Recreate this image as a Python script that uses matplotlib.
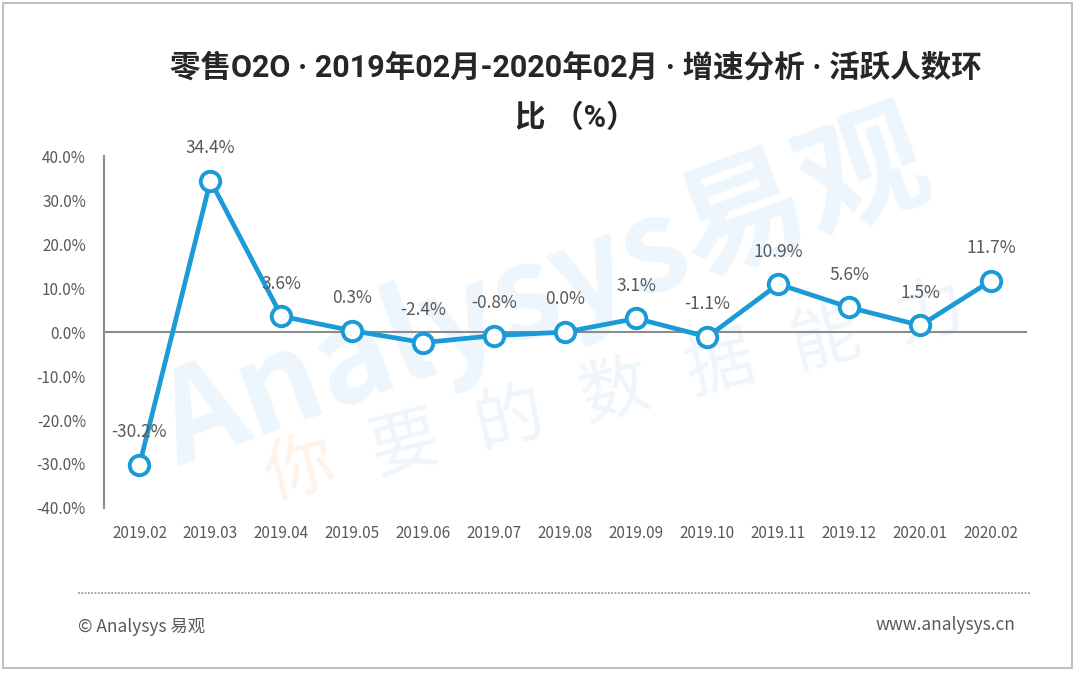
import matplotlib.pyplot as plt
from matplotlib.patches import Rectangle
from matplotlib.lines import Line2D

plt.rcParams['font.family'] = ['Noto Sans CJK SC', 'DejaVu Sans']

months = ['2019.02', '2019.03', '2019.04', '2019.05', '2019.06', '2019.07',
          '2019.08', '2019.09', '2019.10', '2019.11', '2019.12', '2020.01',
          '2020.02']
growth = [-30.2, 34.4, 3.6, 0.3, -2.4, -0.8, 0.0, 3.1, -1.1, 10.9, 5.6, 1.5, 11.7]
yticks = [-40, -30, -20, -10, 0, 10, 20, 30, 40]

title_lines = ['零售O2O · 2019年02月-2020年02月 · 增速分析 · 活跃人数环', '比 （%）']
slogan = '你要的数据能力'

blue = '#1A9AD7'
grey = '#595959'

fig = plt.figure(figsize=(10.8, 6.73), dpi=100)

# faint watermark behind the chart
fig.text(0.505, 0.565, 'Analysys易观', fontsize=92, fontweight='bold',
         color='#EDF6FC', rotation=20, ha='center', va='center', zorder=-1)
for i, ch in enumerate(slogan):
    fig.text((300 + 105 * i) / 1080, 1 - (472 - 26.5 * i) / 673, ch,
             fontsize=50, color='#FEF3EA' if i == 0 else '#EEF6FB',
             rotation=14, ha='center', va='center', zorder=-1)

ax = fig.add_axes([0.0963, 0.2452, 0.8545, 0.5228])
ax.set_zorder(2)
ax.patch.set_alpha(0)
x = list(range(len(months)))
ax.plot(x, growth, color=blue, linewidth=3.4, marker='o', markersize=14,
        markerfacecolor='white', markeredgecolor=blue, markeredgewidth=2.8,
        zorder=3)
ax.axhline(0, color='#8C8C8C', linewidth=1.5, zorder=2)

for xi, v in zip(x, growth):
    ax.annotate('%.1f%%' % v, (xi, v), xytext=(0, 17), textcoords='offset points',
                ha='center', va='bottom', fontsize=12.5, color=grey, zorder=4)

ax.set_xlim(-0.5, len(months) - 0.5)
ax.set_ylim(-40, 40)
ax.set_xticks(x)
ax.set_xticklabels(months)
ax.set_yticks(yticks)
ax.set_yticklabels(['%.1f%%' % t for t in yticks])
ax.tick_params(axis='x', length=0, pad=12, labelsize=11, labelcolor=grey)
ax.tick_params(axis='y', length=0, pad=13, labelsize=11, labelcolor=grey)
for side in ['top', 'right', 'bottom']:
    ax.spines[side].set_visible(False)
ax.spines['left'].set_color('#8C8C8C')
ax.spines['left'].set_linewidth(1.5)

# two-line title
for line, ty in zip(title_lines, [0.899, 0.825]):
    fig.text(0.533, ty, line, ha='center', va='center', fontsize=22,
             fontweight='bold', color='#262626',
             family=['Roboto', 'Noto Sans CJK SC'])

# footer
fig.add_artist(Line2D([0.072, 0.954], [0.119, 0.119], transform=fig.transFigure,
                      color='#8C8C8C', linewidth=1.2, linestyle=(0, (1, 1))))
fig.text(0.072, 0.069, '© Analysys 易观', fontsize=12.5, color=grey,
         ha='left', va='center')
fig.text(0.940, 0.071, 'www.analysys.cn', fontsize=12.5, color=grey,
         ha='right', va='center')

fig.add_artist(Rectangle((0.003, 0.008), 0.990, 0.988, transform=fig.transFigure,
                         fill=False, edgecolor='#BFBFBF', linewidth=1.5))

fig.savefig('out.png', dpi=100)
